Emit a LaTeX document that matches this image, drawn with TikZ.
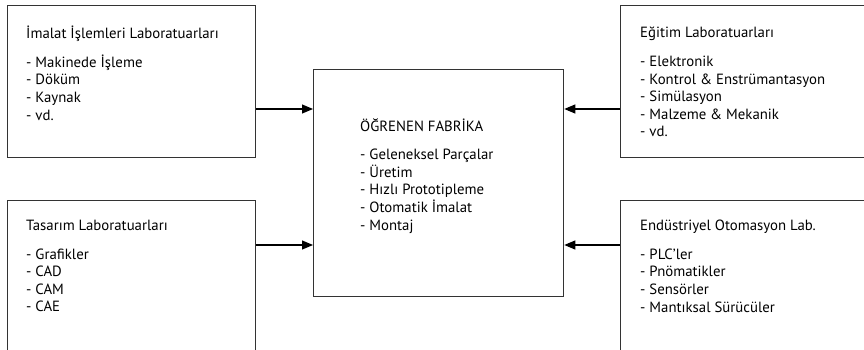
\documentclass[tikz,border=0pt]{standalone}
\usepackage{fontspec}
\setmainfont{PT Sans}
\usetikzlibrary{arrows.meta}
\tikzset{
  labbox/.style={draw=black!80,line width=1.3pt,rectangle,inner sep=0pt,anchor=north west},
  labtext/.style={anchor=north west,inner sep=0pt,align=left,text=black,
    font=\fontsize{14.8}{17.6}\selectfont},
  conn/.style={line width=1.1pt,-{Triangle[length=11pt,width=9pt]}}
}
\begin{document}
\begin{tikzpicture}[x=1pt,y=-1pt]
  \useasboundingbox (0,0) rectangle (864,350);
  % kutular
  \node[labbox,minimum width=248pt,minimum height=152pt] (imalat) at (7,5) {};
  \node[labbox,minimum width=248pt,minimum height=180pt] (tasarim) at (7,200) {};
  \node[labbox,minimum width=250pt,minimum height=227pt] (fabrika) at (313,69) {};
  \node[labbox,minimum width=280pt,minimum height=152pt] (egitim) at (620,5) {};
  \node[labbox,minimum width=280pt,minimum height=180pt] (otomasyon) at (620,200) {};
  % metinler
  \node[labtext] (imalat-t) at (26,26)
    {İmalat İşlemleri Laboratuarları\\[11pt]- Makinede İşleme\\- Döküm\\- Kaynak\\- vd.};
  \node[labtext] (tasarim-t) at (26,220)
    {Tasarım Laboratuarları\\[11pt]- Grafikler\\- CAD\\- CAM\\- CAE};
  \node[labtext] (fabrika-t) at (360,118)
    {ÖĞRENEN FABRİKA\\[11pt]- Geleneksel Parçalar\\- Üretim\\- Hızlı Prototipleme\\- Otomatik İmalat\\- Montaj};
  \node[labtext] (egitim-t) at (640,27)
    {Eğitim Laboratuarları\\[11pt]- Elektronik\\- Kontrol \& Enstrümantasyon\\- Simülasyon\\- Malzeme \& Mekanik\\- vd.};
  \node[labtext] (otomasyon-t) at (640,220)
    {Endüstriyel Otomasyon Lab.\\[11pt]- PLC’ler\\- Pnömatikler\\- Sensörler\\- Mantıksal Sürücüler};
  % oklar
  \draw[conn] (imalat.east |- 0,109) -- (fabrika.west |- 0,109);
  \draw[conn] (tasarim.east |- 0,245) -- (fabrika.west |- 0,245);
  \draw[conn] (egitim.west |- 0,109) -- (fabrika.east |- 0,109);
  \draw[conn] (otomasyon.west |- 0,245) -- (fabrika.east |- 0,245);
\end{tikzpicture}
\end{document}
